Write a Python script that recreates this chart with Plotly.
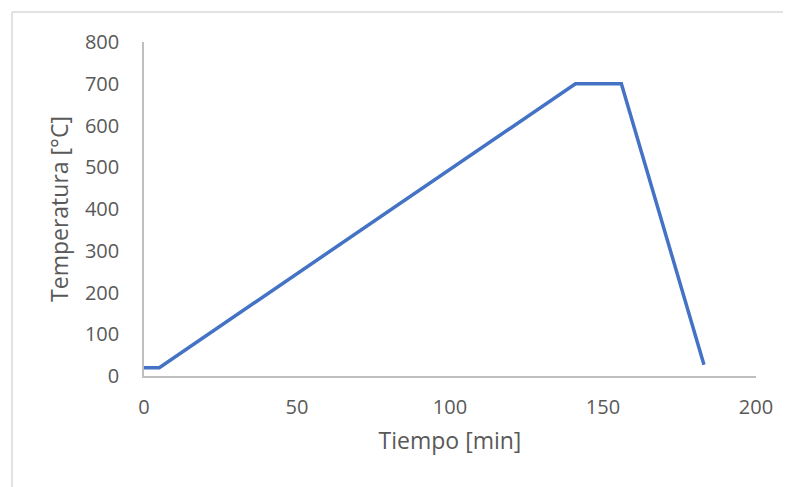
import plotly.graph_objects as go

tiempo = [0, 5, 141, 156, 183]
temperatura = [20, 20, 700, 700, 27]
y_ticks = [0, 100, 200, 300, 400, 500, 600, 700, 800]
x_ticks = [0, 50, 100, 150, 200]

# the page body adds ~7px offset; size figure to fit the window
W, H = 784, 480
ml, mr, mt, mb = 136, 36, 34, 112
pw, ph = W - ml - mr, H - mt - mb

fig = go.Figure()
fig.add_trace(go.Scatter(x=tiempo, y=temperatura, mode="lines",
                         line=dict(color="#4472C4", width=3.5), showlegend=False))

font_fam = "Open Sans, Liberation Sans, sans-serif"
fig.update_layout(
    width=W, height=H,
    margin=dict(l=ml, r=mr, t=mt, b=mb),
    paper_bgcolor="white", plot_bgcolor="white",
    font=dict(family=font_fam, color="#595959", size=20),
    xaxis=dict(range=[0, 200], tickvals=x_ticks, showgrid=False, zeroline=False,
               showline=True, linecolor="#BFBFBF", linewidth=1.5,
               ticks="", ticklabelstandoff=12,
               tickfont=dict(size=20, color="#595959"),
               title=dict(text="Tiempo [min]", font=dict(size=23, color="#595959"), standoff=14)),
    yaxis=dict(range=[0, 800], tickvals=y_ticks, showgrid=False, zeroline=False,
               showline=True, linecolor="#BFBFBF", linewidth=1.5,
               ticks="", ticklabelstandoff=19,
               tickfont=dict(size=20, color="#595959"),
               title=dict(text="Temperatura [°C]", font=dict(size=23, color="#595959"), standoff=10)),
)

bx = (4 - ml) / pw
by = 1 + (mt - 4) / ph
fig.add_shape(type="line", xref="paper", yref="paper",
              x0=bx, x1=(W + 5 - ml) / pw, y0=by, y1=by,
              line=dict(color="#D9D9D9", width=1.5))
fig.add_shape(type="line", xref="paper", yref="paper",
              x0=bx, x1=bx, y0=-(mb + 5) / ph, y1=by,
              line=dict(color="#D9D9D9", width=1.5))

fig.write_html("out.html")
